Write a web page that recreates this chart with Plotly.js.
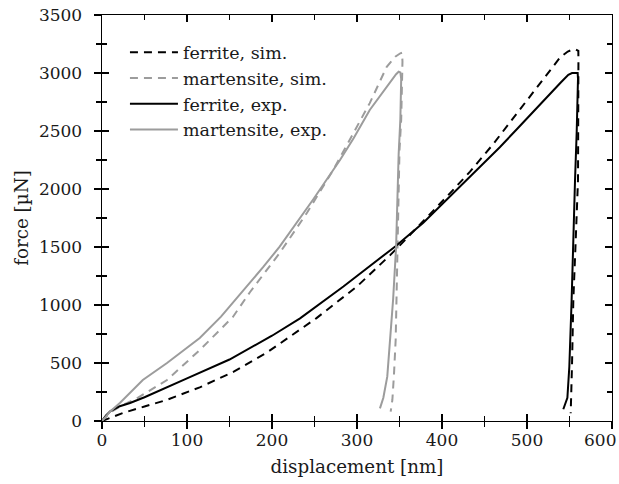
<!DOCTYPE html>
<html>
<head>
<meta charset="utf-8">
<script src="https://cdn.plot.ly/plotly-3.0.1.min.js"></script>
<style>html,body{margin:0;padding:0;background:#fff;}#chart{width:619px;height:484px;}</style>
</head>
<body>
<div id="chart"></div>
<script>
// ferrite, simulation (black dashed)
var ferriteSimX = [0, 10, 25, 50, 76, 115, 155, 194, 233, 252, 300, 320, 339, 351, 366, 386, 409, 421, 433, 460, 492, 523, 539, 548, 553, 557, 560.4, 560.5, 560, 557, 554.5, 553, 551.4];
var ferriteSimY = [0, 30, 70, 125, 181, 290, 425, 590, 784, 885, 1160, 1295, 1430, 1518, 1630, 1782, 1960, 2055, 2150, 2385, 2690, 2985, 3135, 3185, 3200, 3204, 3190, 3100, 2078, 1500, 1043, 500, 66];

// martensite, simulation (grey dashed)
var martSimX = [0, 10, 20, 41, 76.5, 115, 154, 174, 209, 241, 272, 296, 315, 335, 345, 351, 353, 353.5, 352, 350, 347, 346.5, 345.5, 343.5, 341.6, 339.6];
var martSimY = [0, 75, 120, 195, 353, 612, 897, 1110, 1448, 1793, 2164, 2480, 2740, 3054, 3140, 3170, 3175, 3100, 2600, 2336, 1400, 1043, 700, 400, 181, 80];

// ferrite, experiment (black solid)
var ferriteExpX = [0, 5, 10, 20, 33, 50, 100, 150, 200, 233, 284, 327, 345, 378, 405, 431, 468, 488, 520, 540, 548.6, 553, 559.6, 560, 558.5, 556.5, 552.5, 549.8, 547.5, 545, 542.7];
var ferriteExpY = [0, 50, 85, 125, 155, 205, 368, 530, 735, 885, 1160, 1402, 1505, 1710, 1905, 2095, 2360, 2515, 2770, 2920, 2985, 3000, 3000, 2950, 2500, 2078, 1043, 468, 200, 140, 101];

// martensite, experiment (grey solid)
var martExpX = [0, 10, 21, 48, 76.5, 115, 140, 166, 190, 209, 248, 280, 296, 315, 339, 346, 349, 351, 352, 351.5, 351, 349, 346, 342.5, 340, 335.6, 331, 327];
var martExpY = [0, 85, 155, 353, 500, 716, 900, 1120, 1330, 1503, 1905, 2250, 2437, 2681, 2925, 2990, 3011, 3005, 2950, 2800, 2600, 2300, 1500, 1050, 800, 382, 200, 109];

var seriesNames = ['ferrite, sim.', 'martensite, sim.', 'ferrite, exp.', 'martensite, exp.'];
var xTickVals = [0, 100, 200, 300, 400, 500, 600];
var xTickText = ['0', '100', '200', '300', '400', '500', '600'];
var xTitle = 'displacement [nm]';
var yTitle = 'force [µN]';

var BLACK = '#000000', GREY = '#9c9c9c';
var FONT = 'DejaVu Serif, serif';
var TXT = '#1a1a1a';
var DASH = '8px,6px';

function tr(x, y, name, color, dash, grp) {
  return {x: x, y: y, name: name, type: 'scatter', mode: 'lines',
    line: {color: color, width: 2, dash: dash}, legendgroup: grp, hoverinfo: 'skip'};
}

var data = [
  tr(ferriteSimX, ferriteSimY, seriesNames[0], BLACK, DASH, 'a'),
  tr(martSimX, martSimY, seriesNames[1], GREY, DASH, 'b'),
  tr(ferriteExpX, ferriteExpY, seriesNames[2], BLACK, 'solid', 'c'),
  tr(martExpX, martExpY, seriesNames[3], GREY, 'solid', 'd'),
  {x: [], y: [], xaxis: 'x2', yaxis: 'y2', type: 'scatter', mode: 'lines', showlegend: false, hoverinfo: 'skip'}
];

var axBase = {
  showgrid: false, zeroline: false, showline: true, linecolor: '#000', linewidth: 1.4,
  tickcolor: '#000', tickwidth: 1.3, ticklen: 7, ticks: 'inside', mirror: 'allticks',
  tickfont: {family: FONT, size: 17, color: TXT}
};

// the last x tick label sits at the right edge; it is drawn as an annotation nudged left so it stays visible
var lastIdx = xTickVals.length - 1;
var shownText = xTickText.map(function (t, i) { return i === lastIdx ? '' : t; });

var layout = {
  width: 619, height: 484,
  margin: {l: 102, r: 7, t: 15, b: 63},
  paper_bgcolor: '#fff', plot_bgcolor: '#fff',
  showlegend: true,
  legend: {x: 0.045, y: 0.952, xanchor: 'left', yanchor: 'top', bgcolor: 'rgba(0,0,0,0)',
    font: {family: FONT, size: 17.5, color: TXT}, traceorder: 'grouped', tracegroupgap: 0, itemwidth: 48},
  xaxis: Object.assign({}, axBase, {
    range: [0, 600], tickmode: 'array', tickvals: xTickVals, ticktext: shownText, ticklabelstandoff: 3,
    minor: {dtick: 50, ticks: 'inside', ticklen: 5, tickcolor: '#000', tickwidth: 1.2},
    title: {text: xTitle, font: {family: FONT, size: 18.3, color: TXT}, standoff: 11}
  }),
  yaxis: Object.assign({}, axBase, {
    range: [0, 3500], dtick: 500, tick0: 0, ticklabelstandoff: 15,
    minor: {dtick: 250, ticks: 'inside', ticklen: 5, tickcolor: '#000', tickwidth: 1.2},
    title: {text: yTitle, font: {family: FONT, size: 18.3, color: TXT}, standoff: 5}
  }),
  xaxis2: {overlaying: 'x', anchor: 'y', side: 'bottom', range: [0, 600], dtick: 100, tick0: 0,
    showgrid: false, zeroline: false, showline: false, showticklabels: false,
    ticks: 'outside', ticklen: 7, tickwidth: 1.3, tickcolor: '#000',
    minor: {dtick: 50, ticks: 'outside', ticklen: 5, tickcolor: '#000', tickwidth: 1.2}},
  yaxis2: {overlaying: 'y', anchor: 'x', side: 'left', range: [0, 3500], dtick: 500, tick0: 0,
    showgrid: false, zeroline: false, showline: false, showticklabels: false,
    ticks: 'outside', ticklen: 7, tickwidth: 1.3, tickcolor: '#000',
    minor: {dtick: 250, ticks: 'outside', ticklen: 5, tickcolor: '#000', tickwidth: 1.2}},
  annotations: [{
    x: xTickVals[lastIdx], xref: 'x', y: 0, yref: 'paper', yanchor: 'top', xanchor: 'right',
    xshift: 6, yshift: -7, text: xTickText[lastIdx], showarrow: false,
    font: {family: FONT, size: 17, color: TXT}
  }]
};

Plotly.newPlot('chart', data, layout, {staticPlot: true, displayModeBar: false});
</script>
</body>
</html>
